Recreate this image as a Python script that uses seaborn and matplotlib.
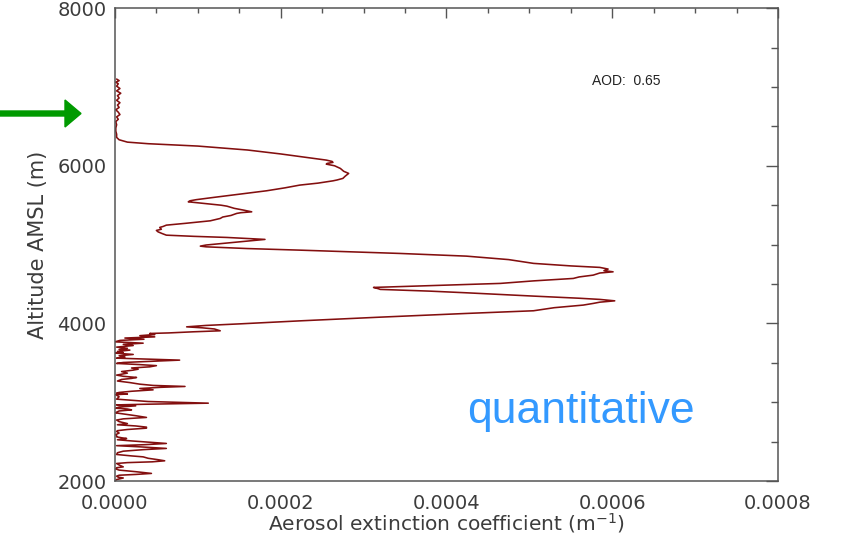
import numpy as np
import pandas as pd
import matplotlib
matplotlib.use("Agg")
import matplotlib.pyplot as plt
from matplotlib.ticker import MultipleLocator, FormatStrFormatter
from matplotlib.patches import FancyArrow
from matplotlib.transforms import IdentityTransform
import seaborn as sns

# Lidar profile: altitude above mean sea level (m) and aerosol extinction (units of 1e-4 m^-1)
altitude_m = [
    7100, 7080, 7060, 7040, 7010, 6980, 6950, 6920, 6890, 6860, 6830, 6800,
    6770, 6740, 6710, 6680, 6650, 6620, 6590, 6560, 6520, 6480, 6440, 6400,
    6360, 6330, 6300, 6280, 6250, 6200, 6150, 6100, 6072, 6055, 6043, 6030,
    6021, 6000, 5966, 5930, 5903, 5870, 5840, 5820, 5809, 5780, 5755, 5720,
    5683, 5640, 5600, 5570, 5556, 5543, 5520, 5500, 5488, 5460, 5438, 5416,
    5405, 5396, 5370, 5350, 5332, 5302, 5270, 5247, 5230, 5218, 5195, 5180,
    5162, 5140, 5120, 5105, 5091, 5066, 5030, 4995, 4981, 4972, 4950, 4930,
    4888, 4854, 4810, 4762, 4730, 4711, 4690, 4670, 4655, 4640, 4613, 4590,
    4571, 4540, 4508, 4480, 4457, 4440, 4432, 4410, 4389, 4347, 4320, 4305,
    4287, 4270, 4254, 4233, 4200, 4161, 4127, 4080, 4033, 4015, 3995, 3975,
    3957, 3945, 3930, 3907, 3894, 3880, 3873,
    3860, 3845, 3830, 3815, 3800, 3785, 3767, 3750, 3735, 3720, 3700, 3685,
    3670, 3662, 3645, 3630, 3624, 3607, 3590, 3575, 3560, 3548, 3535, 3520,
    3505, 3493, 3478, 3465, 3450, 3435, 3420, 3408, 3390, 3370, 3345, 3330,
    3315, 3303, 3290, 3270, 3250, 3230, 3214, 3201, 3190, 3175, 3158, 3140,
    3125, 3116, 3105, 3097, 3070, 3040, 3010, 2989, 2975, 2967, 2955, 2940,
    2925, 2915, 2904, 2890, 2875, 2866, 2850, 2830, 2808, 2790, 2775, 2755,
    2730, 2715, 2700, 2685, 2672, 2655, 2640, 2630, 2610, 2590, 2575, 2562,
    2550, 2541, 2525, 2510, 2495, 2478, 2462, 2450, 2435, 2415, 2400, 2380,
    2360, 2338, 2320, 2308, 2290, 2272, 2258, 2245, 2235, 2224, 2205, 2190,
    2181, 2170, 2155, 2140, 2120, 2098, 2085, 2075, 2063, 2050, 2040, 2030,
    2020, 2010,
]

extinction_1e4 = [
    0.02, 0.05, 0.01, 0.04, 0.02, 0.06, 0.02, 0.07, 0.03, 0.05, 0.02, 0.06,
    0.03, 0.05, 0.01, 0.04, 0.06, 0.02, 0.04, 0.01, 0.02, 0.01, 0.01, 0.02,
    0.02, 0.05, 0.15, 0.40, 1.00, 1.60, 2.00, 2.35, 2.55, 2.62, 2.63, 2.56,
    2.55, 2.65, 2.72, 2.76, 2.82, 2.78, 2.75, 2.68, 2.63, 2.45, 2.23, 2.05,
    1.83, 1.50, 1.20, 0.98, 0.905, 0.885, 1.10, 1.28, 1.35, 1.44, 1.55, 1.65,
    1.52, 1.47, 1.40, 1.30, 1.27, 1.15, 0.85, 0.62, 0.58, 0.54, 0.56, 0.50,
    0.52, 0.57, 0.62, 0.95, 1.35, 1.81, 1.45, 1.10, 1.03, 1.10, 1.60, 2.23,
    3.44, 4.24, 4.75, 5.05, 5.50, 5.85, 5.95, 5.90, 6.01, 5.85, 5.77, 5.60,
    5.53, 5.05, 4.65, 3.80, 3.12, 3.18, 3.20, 3.80, 4.24, 5.05, 5.60, 5.85,
    6.03, 5.85, 5.77, 5.65, 5.30, 5.05, 4.24, 3.20, 2.23, 1.90, 1.51, 1.10,
    0.865, 1.05, 1.20, 1.27, 0.94, 0.65, 0.42,
    0.48, 0.30, 0.48, 0.12, 0.35, 0.06, 0.00, 0.34, 0.10, 0.22, 0.02, 0.15,
    0.05, 0.18, 0.03, 0.10, 0.00, 0.22, 0.05, 0.12, 0.02, 0.40, 0.78, 0.45,
    0.10, 0.02, 0.30, 0.50, 0.42, 0.20, 0.28, 0.22, 0.08, 0.15, 0.02, 0.10,
    0.26, 0.20, 0.08, 0.03, 0.18, 0.30, 0.46, 0.845, 0.55, 0.30, 0.46, 0.20,
    0.05, 0.02, 0.15, 0.01, 0.05, 0.02, 0.40, 1.126, 0.35, 0.02, 0.25, 0.05,
    0.01, 0.15, 0.20, 0.05, 0.02, 0.01, 0.12, 0.25, 0.38, 0.10, 0.02, 0.05,
    0.15, 0.03, 0.25, 0.38, 0.38, 0.15, 0.03, 0.02, 0.05, 0.01, 0.02, 0.02,
    0.08, 0.14, 0.03, 0.20, 0.40, 0.62, 0.35, 0.02, 0.30, 0.62, 0.35, 0.10,
    0.03, 0.02, 0.20, 0.34, 0.40, 0.52, 0.60, 0.45, 0.15, 0.02, 0.05, 0.08,
    0.10, 0.02, 0.01, 0.05, 0.25, 0.44, 0.25, 0.05, 0.02, 0.04, 0.10, 0.06,
    0.02, 0.01,
]

aod_label = "AOD:  0.65"
x_ticks = [0.0, 0.0002, 0.0004, 0.0006, 0.0008]
y_ticks = [2000, 4000, 6000, 8000]

profile = pd.DataFrame({
    "altitude": altitude_m,
    "extinction": np.asarray(extinction_1e4) * 1e-4,
})

sns.set_style("white")
plt.rcParams["font.family"] = ["DejaVu Sans"]

fig = plt.figure(figsize=(8.41, 5.40), dpi=100)
ax = fig.add_axes([0.1367, 0.109, 0.7884, 0.876])

sns.lineplot(data=profile, x="extinction", y="altitude", sort=False,
             estimator=None, color="#830f0f", linewidth=1.15, ax=ax)

ax.set_xlim(0, 0.0008)
ax.set_ylim(2000, 8000)
ax.set_xticks(x_ticks)
ax.set_yticks(y_ticks)
ax.xaxis.set_major_formatter(FormatStrFormatter("%.4f"))
ax.xaxis.set_minor_locator(MultipleLocator(0.00005))
ax.yaxis.set_minor_locator(MultipleLocator(500))

axis_grey = "#3c3c3c"
for side in ax.spines.values():
    side.set_color("#555555")
    side.set_linewidth(1.1)
ax.tick_params(which="both", direction="in", top=True, right=True,
               color="#555555", labelcolor=axis_grey, labelsize=14)
ax.tick_params(axis="y", which="major", length=9, width=1.0, pad=6)
ax.tick_params(axis="y", which="minor", length=5, width=1.0)
ax.tick_params(axis="x", which="major", length=7, width=1.0, pad=9)
ax.tick_params(axis="x", which="minor", length=3.5, width=1.0)

ax.set_xlabel("Aerosol extinction coefficient (m$^{-1}$)", fontsize=14.5,
              color=axis_grey, labelpad=-1)
ax.set_ylabel("Altitude AMSL (m)", fontsize=15, color=axis_grey, labelpad=7)

ax.text(0.000575, 7070, aod_label, fontsize=10, color="#222222",
        family="Liberation Sans", va="center", ha="left")

fig.text(467 / 841, (540 - 423) / 540, "quantitative", fontsize=32,
         color="#3399ff", family="Liberation Sans", ha="left", va="baseline")

# green marker arrow pointing at the aerosol-free layer aloft
fig.patches.append(FancyArrow(0, 540 - 113.5, 81, 0, width=5, head_width=27,
                              head_length=16, length_includes_head=True,
                              color="#009a00", transform=IdentityTransform(),
                              figure=fig))

fig.savefig("out.png", dpi=100)
